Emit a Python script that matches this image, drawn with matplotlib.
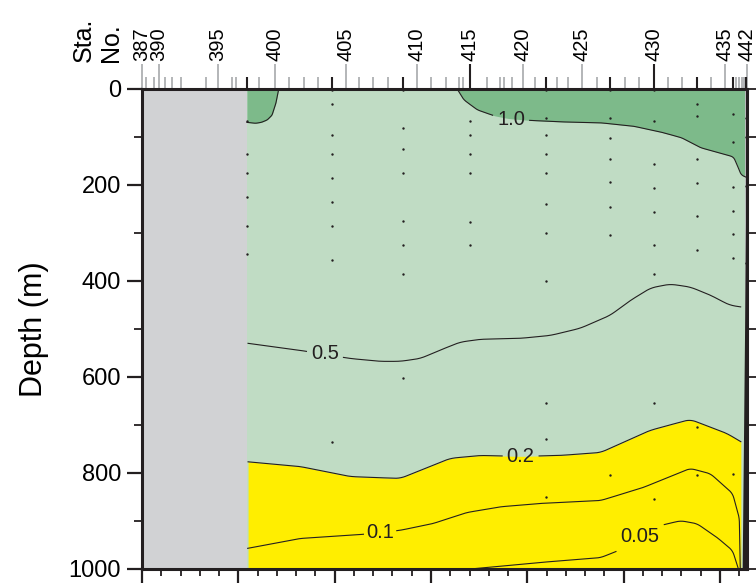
import numpy as np
import matplotlib.pyplot as plt

plt.rcParams['font.family'] = ['Liberation Sans', 'DejaVu Sans']

# station numbers and along-track position (km)
stations = list(range(387, 443))
sta_km = [0, 4, 12.5, 17.5, 24, 31, 40.5, 66, 78.5, 93, 97.5, 108.5, 121.5, 138,
          152.5, 168, 183, 197, 211.5, 225.5, 240, 255.5, 270.5, 285, 299.5, 315.5,
          329, 333.5, 340.5, 358, 372, 376, 384, 396, 408, 419.5, 430.5, 442, 456.5,
          472, 486, 501, 515.5, 531, 546, 560.5, 576, 590.5, 605.5, 613.5, 617, 620,
          622.5, 624.5, 626.5, 628]
labeled = [387, 390, 395, 400, 405, 410, 415, 420, 425, 430, 435, 442]
bottle_sta = [398, 404, 409, 415, 422, 427, 430, 433, 436, 441]

# bottle sample depths (m) per bottle station
samples = {
    398: [68, 136, 176, 226, 285, 344],
    404: [2, 31, 96, 136, 186, 237, 286, 356, 735],
    409: [2, 81, 125, 176, 276, 325, 385, 603],
    415: [67, 97, 136, 176, 277, 326],
    422: [2, 60, 96, 136, 176, 240, 300, 400, 655, 730, 850],
    427: [2, 61, 102, 146, 195, 246, 305, 804],
    430: [2, 68, 157, 207, 257, 326, 386, 654, 855],
    433: [31, 56, 146, 197, 265, 335, 705, 804],
    436: [53, 112, 204, 254, 302, 353, 802],
    441: [61, 100, 203, 363, 639],
}

data_start = 108.5

# contour lines: position (km) and depth (m)
c10a_x = [108.5, 118, 124, 130, 135, 139, 142]
c10a_d = [70, 72, 70, 65, 55, 30, 0]
c10b_x = [327, 334, 348, 365, 380, 403, 434, 476, 510, 538, 560, 580, 600, 614, 618, 622, 628]
c10b_d = [0, 23, 44, 56, 62, 66, 69, 71, 78, 90, 102, 123, 134, 142, 160, 180, 185]
c05_x = [108.5, 164, 216, 247, 268, 289, 309, 330, 351, 393, 424, 455, 486, 507, 528, 548, 569, 590, 610, 623]
c05_d = [530, 545, 562, 568, 568, 562, 545, 528, 522, 520, 514, 499, 472, 441, 415, 407, 413, 430, 451, 455]
c02_x = [108.5, 164, 216, 268, 289, 320, 351, 393, 434, 476, 527, 569, 607, 623]
c02_d = [777, 787, 808, 812, 795, 770, 764, 766, 764, 758, 712, 689, 718, 737]
c01_x = [108.5, 164, 226, 268, 302, 337, 372, 413, 455, 476, 520, 569, 590, 613, 620, 621]
c01_d = [958, 937, 929, 920, 906, 883, 871, 864, 860, 858, 831, 791, 802, 843, 894, 1000]
c005_x = [344, 413, 476, 496, 517, 538, 559, 576, 597, 613, 619]
c005_d = [1000, 987, 977, 961, 935, 910, 900, 906, 935, 962, 1000]

lab_text = ['1.0', '0.5', '0.2', '0.1', '0.05']
lab_x = [383, 190, 393, 247, 517]
lab_d = [65, 551, 766, 924, 932]

c_gray = '#d1d2d4'
c_light = '#c0dcc4'
c_dark = '#7dba8a'
c_yellow = '#ffee00'
c_ink = '#231f20'


def smooth(xs, ds, win=15):
    xs, ds = np.asarray(xs, float), np.asarray(ds, float)
    px, py = xs * 0.963, ds * 0.48
    s = np.concatenate([[0], np.cumsum(np.hypot(np.diff(px), np.diff(py)))])
    si = np.linspace(0, s[-1], int(s[-1]) * 2 + 2)
    xi = np.interp(si, s, xs)
    di = np.interp(si, s, ds)
    k = np.ones(win) / win
    h = win // 2
    xi = np.convolve(np.pad(xi, h, mode='edge'), k, mode='valid')
    di = np.convolve(np.pad(di, h, mode='edge'), k, mode='valid')
    return xi, di


fig = plt.figure(figsize=(7.56, 5.83), dpi=100)
ax = fig.add_axes([0.1878, 0.0245, 0.8003, 0.8233])
ax.set_facecolor(c_light)
ax.set_xlim(0, 628)
ax.set_ylim(1000, 0)

lines = {
    '10a': smooth(c10a_x, c10a_d, 7),
    '10b': smooth(c10b_x, c10b_d, 13),
    '05': smooth(c05_x, c05_d, 25),
    '02': smooth(c02_x, c02_d, 25),
    '01': smooth(c01_x, c01_d, 19),
    '005': smooth(c005_x, c005_d, 19),
}

ax.axvspan(0, data_start, color=c_gray, lw=0, zorder=1)
ax.fill_between(*lines['10a'], 0, color=c_dark, lw=0, zorder=1)
ax.fill_between(*lines['10b'], 0, color=c_dark, lw=0, zorder=1)
ax.fill_between(*lines['02'], 1000, color=c_yellow, lw=0, zorder=1)

# seafloor at right edge
ax.fill_betweenx([0, 1000], [625.5, 625.5], [628, 628], color='#bdbec0', lw=0, zorder=2)
ax.fill_betweenx([150, 500, 1000], [627, 625.5, 623], [628, 628, 628], color=c_ink, lw=0, zorder=2)


def draw_line(xd, gaps):
    xi, di = xd
    for gx, gd, hw in gaps:
        m = (np.abs(xi - gx) < hw) & (np.abs(di - gd) < 40)
        xi = np.where(m, np.nan, xi)
    ax.plot(xi, di, color=c_ink, lw=0.8, zorder=3)


draw_line(lines['10a'], [])
draw_line(lines['10b'], [(lab_x[0], lab_d[0], 19)])
draw_line(lines['05'], [(lab_x[1], lab_d[1], 19)])
draw_line(lines['02'], [(lab_x[2], lab_d[2], 19)])
draw_line(lines['01'], [(lab_x[3], lab_d[3], 17)])
draw_line(lines['005'], [(lab_x[4], lab_d[4], 25)])

for t, x, d in zip(lab_text, lab_x, lab_d):
    ax.text(x, d, t, fontsize=14.5, ha='center', va='center', color=c_ink, zorder=4)

pos = dict(zip(stations, sta_km))
for s in bottle_sta:
    ax.scatter([pos[s]] * len(samples[s]), samples[s], s=3, color=c_ink, lw=0, zorder=5)

# axes styling
for sp in ax.spines.values():
    sp.set_linewidth(2.2)
    sp.set_color(c_ink)
ax.set_xticks(np.arange(0, 601, 100))
ax.set_xticks(np.arange(0, 628, 20), minor=True)
ax.set_yticks(np.arange(0, 1001, 200))
ax.set_yticks(np.arange(0, 1001, 100), minor=True)
ax.tick_params(axis='x', which='major', bottom=True, top=False, length=11, width=1.6,
               labelbottom=False, color=c_ink)
ax.tick_params(axis='x', which='minor', bottom=True, top=False, length=5, width=1.3, color=c_ink)
ax.tick_params(axis='y', which='major', length=11, width=1.6, labelsize=17, pad=4, color=c_ink)
ax.tick_params(axis='y', which='minor', length=6, width=1.3, color=c_ink)
ax.set_ylabel('Depth (m)', fontsize=22, labelpad=14)

axr = ax.secondary_yaxis('right')
axr.set_yticks(np.arange(0, 1001, 100))
axr.tick_params(length=7, width=1.3, labelright=False, color=c_ink)
axr.spines['right'].set_visible(False)

# station ticks on top
axt = ax.secondary_xaxis('top')
axt.set_xticks([pos[s] for s in labeled])
axt.set_xticklabels([str(s) for s in labeled], rotation=90, fontsize=14.5)
axt.set_xticks([pos[s] for s in stations if s not in labeled], minor=True)
axt.tick_params(which='major', length=18, width=1.2, color='#a7a9ac', pad=2)
axt.tick_params(which='minor', length=9, width=1.2, color='#a7a9ac')
axt.spines['top'].set_visible(False)

axb = ax.secondary_xaxis('top')
axb.set_xticks([pos[s] for s in bottle_sta if s in labeled])
axb.set_xticks([pos[s] for s in bottle_sta if s not in labeled], minor=True)
axb.tick_params(which='major', length=18, width=1.5, color=c_ink, labeltop=False)
axb.tick_params(which='minor', length=9, width=1.5, color=c_ink)
axb.spines['top'].set_visible(False)

fig.text(0.129, 1 - 62 / 583, 'Sta.\nNo.', rotation=90, fontsize=18, ha='center', va='bottom',
         multialignment='left', linespacing=1.15)

fig.savefig('out.png', dpi=100)
